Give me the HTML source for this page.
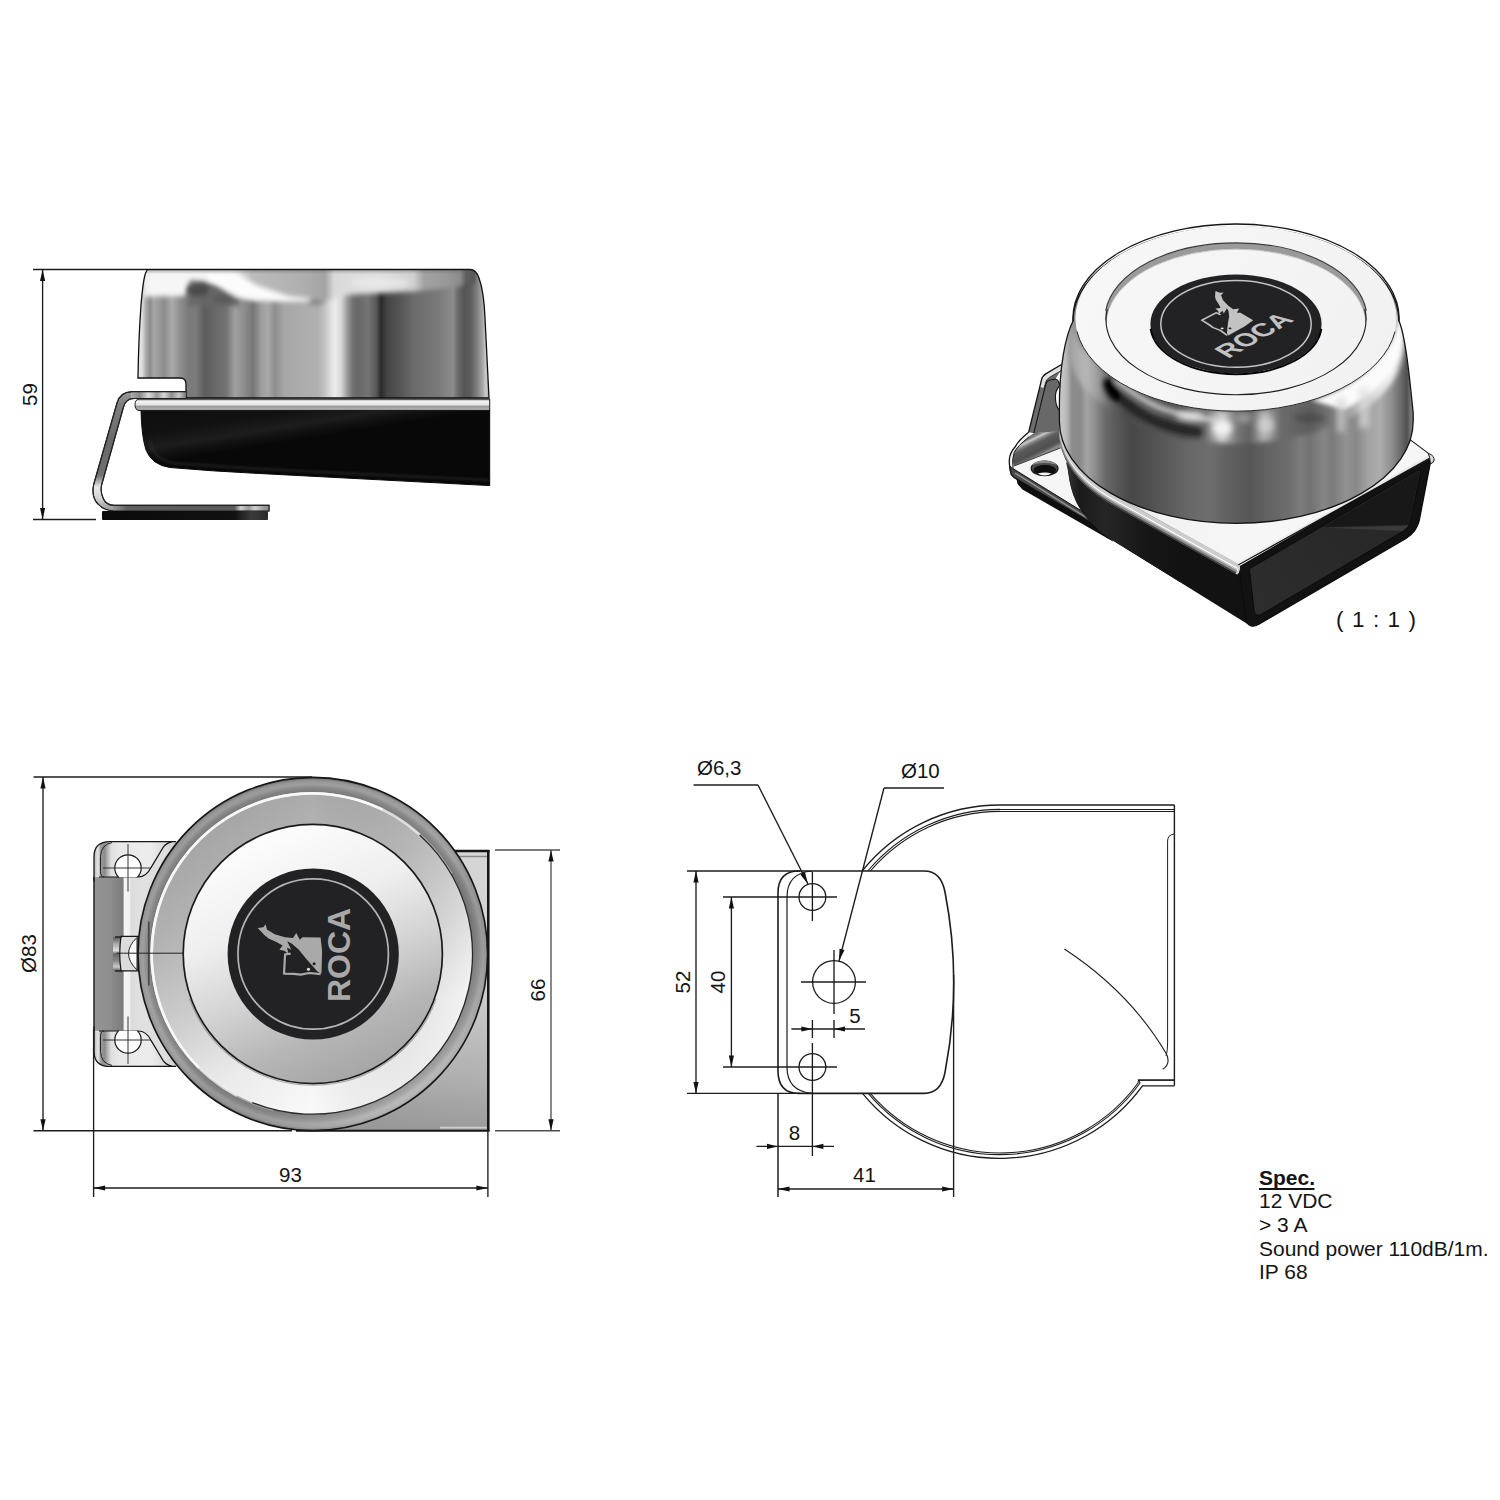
<!DOCTYPE html>
<html><head><meta charset="utf-8"><title>ROCA horn drawing</title>
<style>
html,body{margin:0;padding:0;background:#fff;}
body{width:1500px;height:1500px;overflow:hidden;font-family:"Liberation Sans",sans-serif;}
svg{display:block;}
svg text{font-family:"Liberation Sans",sans-serif;fill:#141414;}
</style></head><body>
<svg width="1500" height="1500" viewBox="0 0 1500 1500">
<defs>

<!-- side view gradients -->
<linearGradient id="sideChrome" gradientUnits="userSpaceOnUse" x1="138" y1="0" x2="489" y2="0">
<stop offset="0.0000" stop-color="#e6e6e6"/>
<stop offset="0.0114" stop-color="#dedede"/>
<stop offset="0.0228" stop-color="#aaaaaa"/>
<stop offset="0.0342" stop-color="#8c8c8c"/>
<stop offset="0.0456" stop-color="#a6a6a6"/>
<stop offset="0.0598" stop-color="#9a9a9a"/>
<stop offset="0.0741" stop-color="#8c8c8c"/>
<stop offset="0.0969" stop-color="#aaaaaa"/>
<stop offset="0.1225" stop-color="#8c8c8c"/>
<stop offset="0.1425" stop-color="#7c7c7c"/>
<stop offset="0.1652" stop-color="#7a7a7a"/>
<stop offset="0.1909" stop-color="#5c5c5c"/>
<stop offset="0.2222" stop-color="#6a6a6a"/>
<stop offset="0.2507" stop-color="#727272"/>
<stop offset="0.2764" stop-color="#a0a0a0"/>
<stop offset="0.3020" stop-color="#8e8e8e"/>
<stop offset="0.3276" stop-color="#767676"/>
<stop offset="0.3533" stop-color="#a0a0a0"/>
<stop offset="0.3704" stop-color="#a8a8a8"/>
<stop offset="0.3903" stop-color="#8e8e8e"/>
<stop offset="0.4160" stop-color="#a6a6a6"/>
<stop offset="0.4615" stop-color="#acacac"/>
<stop offset="0.5128" stop-color="#b0b0b0"/>
<stop offset="0.5328" stop-color="#c4c4c4"/>
<stop offset="0.5470" stop-color="#dcdcdc"/>
<stop offset="0.5613" stop-color="#ececec"/>
<stop offset="0.5783" stop-color="#d8d8d8"/>
<stop offset="0.5969" stop-color="#999999"/>
<stop offset="0.6125" stop-color="#707070"/>
<stop offset="0.6268" stop-color="#686868"/>
<stop offset="0.6553" stop-color="#747474"/>
<stop offset="0.6781" stop-color="#5a5a5a"/>
<stop offset="0.6923" stop-color="#2a2a2a"/>
<stop offset="0.7094" stop-color="#444444"/>
<stop offset="0.7407" stop-color="#525252"/>
<stop offset="0.7835" stop-color="#6a6a6a"/>
<stop offset="0.8205" stop-color="#727272"/>
<stop offset="0.8575" stop-color="#7a7a7a"/>
<stop offset="0.8974" stop-color="#8c8c8c"/>
<stop offset="0.9117" stop-color="#6a6a6a"/>
<stop offset="0.9288" stop-color="#555555"/>
<stop offset="0.9473" stop-color="#5c5c5c"/>
<stop offset="0.9658" stop-color="#808080"/>
<stop offset="0.9821" stop-color="#a8a8a8"/>
<stop offset="0.9915" stop-color="#cccccc"/>
<stop offset="1.0000" stop-color="#aaaaaa"/>
</linearGradient>
<linearGradient id="sideTopGlow" gradientUnits="userSpaceOnUse" x1="0" y1="269" x2="0" y2="318">
<stop offset="0" stop-color="#fff" stop-opacity="0.9"/>
<stop offset="0.3" stop-color="#fff" stop-opacity="0.72"/>
<stop offset="0.62" stop-color="#fff" stop-opacity="0.28"/>
<stop offset="1" stop-color="#fff" stop-opacity="0"/>
</linearGradient>
<linearGradient id="sideRim" gradientUnits="userSpaceOnUse" x1="0" y1="399" x2="0" y2="411">
<stop offset="0" stop-color="#8a8a8a"/><stop offset="0.2" stop-color="#f4f4f4"/><stop offset="0.48" stop-color="#e4e4e4"/>
<stop offset="0.62" stop-color="#9a9a9a"/><stop offset="0.85" stop-color="#b0b0b0"/><stop offset="1" stop-color="#555"/>
</linearGradient>
<linearGradient id="sideBase" gradientUnits="userSpaceOnUse" x1="0" y1="411" x2="12" y2="486">
<stop offset="0" stop-color="#0c0c0c"/><stop offset="0.6" stop-color="#111"/><stop offset="0.8" stop-color="#1d1d1d"/><stop offset="0.9" stop-color="#101010"/><stop offset="1" stop-color="#080808"/>
</linearGradient>
<linearGradient id="sideBrk" gradientUnits="userSpaceOnUse" x1="0" y1="392" x2="0" y2="511">
<stop offset="0" stop-color="#9c9c9c"/><stop offset="0.1" stop-color="#7e7e7e"/><stop offset="0.4" stop-color="#6a6a6a"/><stop offset="0.7" stop-color="#707070"/><stop offset="0.8" stop-color="#eaeaea"/><stop offset="0.9" stop-color="#d0d0d0"/><stop offset="1" stop-color="#909090"/>
</linearGradient>
<linearGradient id="sideBrkTop" gradientUnits="userSpaceOnUse" x1="128" y1="0" x2="186" y2="0">
<stop offset="0" stop-color="#bbb"/><stop offset="0.2" stop-color="#888"/><stop offset="0.35" stop-color="#ddd"/><stop offset="0.5" stop-color="#999"/><stop offset="0.62" stop-color="#d8d8d8"/><stop offset="0.75" stop-color="#909090"/><stop offset="0.88" stop-color="#c8c8c8"/><stop offset="1" stop-color="#777"/>
</linearGradient>
<linearGradient id="sidePlate" gradientUnits="userSpaceOnUse" x1="112" y1="0" x2="269" y2="0">
<stop offset="0" stop-color="#9a9a9a"/><stop offset="0.1" stop-color="#5e5e5e"/><stop offset="0.78" stop-color="#5a5a5a"/><stop offset="0.82" stop-color="#cfcfcf"/><stop offset="0.87" stop-color="#999"/><stop offset="0.91" stop-color="#d0d0d0"/><stop offset="0.96" stop-color="#a0a0a0"/><stop offset="1" stop-color="#888"/>
</linearGradient>
<linearGradient id="sidePad" gradientUnits="userSpaceOnUse" x1="102" y1="0" x2="268" y2="0">
<stop offset="0" stop-color="#0a0a0a"/><stop offset="0.8" stop-color="#111"/><stop offset="0.9" stop-color="#3a3a3a"/><stop offset="1" stop-color="#2a2a2a"/>
</linearGradient>
<linearGradient id="sideTop" gradientUnits="userSpaceOnUse" x1="138" y1="0" x2="489" y2="0">
<stop offset="0.0000" stop-color="#b4b4b4"/>
<stop offset="0.0085" stop-color="#c4c4c4"/>
<stop offset="0.0228" stop-color="#eeeeee"/>
<stop offset="0.0399" stop-color="#f6f6f6"/>
<stop offset="0.1368" stop-color="#f6f6f6"/>
<stop offset="0.1937" stop-color="#f2f2f2"/>
<stop offset="0.2792" stop-color="#e6e6e6"/>
<stop offset="0.3248" stop-color="#bcbcbc"/>
<stop offset="0.4615" stop-color="#b0b0b0"/>
<stop offset="0.5328" stop-color="#a4a4a4"/>
<stop offset="0.5584" stop-color="#d8d8d8"/>
<stop offset="0.5897" stop-color="#dcdcdc"/>
<stop offset="0.6895" stop-color="#dedede"/>
<stop offset="0.7863" stop-color="#cfcfcf"/>
<stop offset="0.8148" stop-color="#a2a2a2"/>
<stop offset="0.8746" stop-color="#9a9a9a"/>
<stop offset="0.9174" stop-color="#8c8c8c"/>
<stop offset="0.9345" stop-color="#5e5e5e"/>
<stop offset="0.9573" stop-color="#585858"/>
<stop offset="0.9744" stop-color="#9a9a9a"/>
<stop offset="1.0000" stop-color="#c0c0c0"/>
</linearGradient>
<linearGradient id="sideTopFade" gradientUnits="userSpaceOnUse" x1="0" y1="268" x2="0" y2="306">
<stop offset="0" stop-color="#fff"/><stop offset="0.5" stop-color="#fff"/><stop offset="0.72" stop-color="#888"/><stop offset="1" stop-color="#000"/>
</linearGradient>
<mask id="sideTopMask" maskUnits="userSpaceOnUse" x="130" y="260" width="370" height="60"><rect x="130" y="260" width="370" height="60" fill="#000"/><polygon filter="url(#blur25)" fill="#fff" points="120,250 510,250 510,283 470,284 462,286 420,291 345,295 330,300 250,300 232,293 214,283 190,280 185,296 120,297"/></mask>
<filter id="blur25" x="-20%" y="-40%" width="140%" height="180%"><feGaussianBlur stdDeviation="2.5"/></filter>
<clipPath id="sideBodyClip"><path d="M148,269.5 H470 Q476,269.5 479,278 Q484,292 485,318 Q487,360 489,398 H186 V384 Q186,378 180,378 H138 Q138.5,340 141,305 Q143,282 145,275 Q146.5,270 148,269.5 Z"/></clipPath>
<filter id="blur3" x="-20%" y="-20%" width="140%" height="140%"><feGaussianBlur stdDeviation="3"/></filter>
<filter id="blur2" x="-20%" y="-20%" width="140%" height="140%"><feGaussianBlur stdDeviation="2"/></filter>
<filter id="blur1" x="-20%" y="-20%" width="140%" height="140%"><feGaussianBlur stdDeviation="1"/></filter>
<filter id="blur5" x="-30%" y="-30%" width="160%" height="160%"><feGaussianBlur stdDeviation="5"/></filter>
<!-- top view gradients -->
<radialGradient id="topCone" gradientUnits="userSpaceOnUse" cx="312.8" cy="954" r="176.6">
<stop offset="0.900" stop-color="#7a7a7a"/><stop offset="0.915" stop-color="#7c7c7c"/><stop offset="0.94" stop-color="#8c8c8c"/>
<stop offset="0.962" stop-color="#a4a4a4"/><stop offset="0.982" stop-color="#9a9a9a"/><stop offset="0.994" stop-color="#777"/><stop offset="1" stop-color="#333"/>
</radialGradient>
<linearGradient id="topConeShade" gradientUnits="userSpaceOnUse" x1="200" y1="800" x2="430" y2="1110">
<stop offset="0" stop-color="#000" stop-opacity="0.05"/><stop offset="0.5" stop-color="#000" stop-opacity="0"/><stop offset="1" stop-color="#fff" stop-opacity="0.42"/>
</linearGradient>
<linearGradient id="topRing" gradientUnits="userSpaceOnUse" x1="262" y1="795" x2="372" y2="1108">
<stop offset="0" stop-color="#a9a9a9"/><stop offset="0.3" stop-color="#bcbcbc"/><stop offset="0.55" stop-color="#d6d6d6"/><stop offset="0.76" stop-color="#f1f1f1"/><stop offset="1" stop-color="#fbfbfb"/>
</linearGradient>
<linearGradient id="topRingH" gradientUnits="userSpaceOnUse" x1="152" y1="0" x2="473" y2="0">
<stop offset="0" stop-color="#000" stop-opacity="0.06"/><stop offset="0.5" stop-color="#000" stop-opacity="0"/><stop offset="1" stop-color="#fff" stop-opacity="0.25"/>
</linearGradient>
<linearGradient id="topDisc" gradientUnits="userSpaceOnUse" x1="262" y1="842" x2="358" y2="1076">
<stop offset="0" stop-color="#fcfcfc"/><stop offset="0.32" stop-color="#eeeeee"/><stop offset="0.58" stop-color="#d2d2d2"/><stop offset="0.8" stop-color="#b6b6b6"/><stop offset="1" stop-color="#a6a6a6"/>
</linearGradient>
<linearGradient id="topPlate" gradientUnits="userSpaceOnUse" x1="470" y1="850" x2="440" y2="1131">
<stop offset="0" stop-color="#d6d6d6"/><stop offset="0.45" stop-color="#d0d0d0"/><stop offset="0.8" stop-color="#b0b0b0"/><stop offset="1" stop-color="#999"/>
</linearGradient>
<linearGradient id="topWall" gradientUnits="userSpaceOnUse" x1="94" y1="0" x2="140" y2="0">
<stop offset="0" stop-color="#959595"/><stop offset="0.35" stop-color="#8e8e8e"/><stop offset="0.55" stop-color="#808080"/><stop offset="0.63" stop-color="#7c7c7c"/>
<stop offset="0.66" stop-color="#f6f6f6"/><stop offset="0.78" stop-color="#f0f0f0"/><stop offset="0.8" stop-color="#dcdcdc"/><stop offset="1" stop-color="#e0e0e0"/>
</linearGradient>
<linearGradient id="topEar" gradientUnits="userSpaceOnUse" x1="94" y1="0" x2="175" y2="0">
<stop offset="0" stop-color="#b4b4b4"/><stop offset="0.05" stop-color="#e8e8e8"/><stop offset="0.085" stop-color="#9a9a9a"/><stop offset="0.13" stop-color="#8c8c8c"/><stop offset="0.17" stop-color="#b4b4b4"/><stop offset="0.21" stop-color="#dedede"/><stop offset="0.3" stop-color="#e8e8e8"/><stop offset="0.7" stop-color="#ececec"/><stop offset="1" stop-color="#d0d0d0"/>
</linearGradient>
<linearGradient id="topKnob" gradientUnits="userSpaceOnUse" x1="0" y1="937" x2="0" y2="971">
<stop offset="0" stop-color="#555"/><stop offset="0.2" stop-color="#aaa"/><stop offset="0.4" stop-color="#e0e0e0"/><stop offset="0.5" stop-color="#666"/><stop offset="0.7" stop-color="#888"/><stop offset="0.88" stop-color="#ccc"/><stop offset="1" stop-color="#555"/>
</linearGradient>
<clipPath id="topBodyClip"><ellipse cx="312.8" cy="954" rx="174.8" ry="176.6"/></clipPath>
<clipPath id="earClipT"><rect x="100" y="840" width="60" height="37.2"/></clipPath>
<clipPath id="earClipB"><rect x="100" y="1030.8" width="60" height="37.2"/></clipPath>
<!-- iso view gradients -->
<linearGradient id="isoSide" gradientUnits="userSpaceOnUse" x1="1060" y1="0" x2="1411" y2="0">
<stop offset="0.0000" stop-color="#c8c8c8"/>
<stop offset="0.0171" stop-color="#bcbcbc"/>
<stop offset="0.0342" stop-color="#8c8c8c"/>
<stop offset="0.0570" stop-color="#8a8a8a"/>
<stop offset="0.0769" stop-color="#a4a4a4"/>
<stop offset="0.1026" stop-color="#8a8a8a"/>
<stop offset="0.1311" stop-color="#686868"/>
<stop offset="0.1709" stop-color="#545454"/>
<stop offset="0.2051" stop-color="#484848"/>
<stop offset="0.2564" stop-color="#505050"/>
<stop offset="0.3134" stop-color="#5c5c5c"/>
<stop offset="0.3704" stop-color="#686868"/>
<stop offset="0.4274" stop-color="#6e6e6e"/>
<stop offset="0.4729" stop-color="#626262"/>
<stop offset="0.5413" stop-color="#565656"/>
<stop offset="0.5983" stop-color="#646464"/>
<stop offset="0.6553" stop-color="#6e6e6e"/>
<stop offset="0.6838" stop-color="#7c7c7c"/>
<stop offset="0.7123" stop-color="#727272"/>
<stop offset="0.7521" stop-color="#868686"/>
<stop offset="0.7749" stop-color="#7a7a7a"/>
<stop offset="0.8148" stop-color="#929292"/>
<stop offset="0.8433" stop-color="#888888"/>
<stop offset="0.8775" stop-color="#a2a2a2"/>
<stop offset="0.9117" stop-color="#acacac"/>
<stop offset="0.9459" stop-color="#8e8e8e"/>
<stop offset="0.9715" stop-color="#6a6a6a"/>
<stop offset="0.9886" stop-color="#505050"/>
<stop offset="1.0000" stop-color="#7a7a7a"/>
</linearGradient>
<linearGradient id="isoBand" gradientUnits="userSpaceOnUse" x1="1072" y1="0" x2="1400" y2="0">
<stop offset="0.0000" stop-color="#a4a4a4"/>
<stop offset="0.0427" stop-color="#b8b8b8"/>
<stop offset="0.0793" stop-color="#9c9c9c"/>
<stop offset="0.1067" stop-color="#707070"/>
<stop offset="0.1341" stop-color="#585858"/>
<stop offset="0.1646" stop-color="#4a4a4a"/>
<stop offset="0.2378" stop-color="#525252"/>
<stop offset="0.3445" stop-color="#4a4a4a"/>
<stop offset="0.4055" stop-color="#6a6a6a"/>
<stop offset="0.4573" stop-color="#d0d0d0"/>
<stop offset="0.5000" stop-color="#7a7a7a"/>
<stop offset="0.5427" stop-color="#606060"/>
<stop offset="0.5854" stop-color="#b4b4b4"/>
<stop offset="0.6341" stop-color="#6c6c6c"/>
<stop offset="0.7256" stop-color="#5c5c5c"/>
<stop offset="0.8018" stop-color="#7c7c7c"/>
<stop offset="0.8628" stop-color="#b0b0b0"/>
<stop offset="0.9238" stop-color="#dedede"/>
<stop offset="0.9756" stop-color="#f0f0f0"/>
<stop offset="1.0000" stop-color="#c8c8c8"/>
</linearGradient>
<linearGradient id="isoTop" gradientUnits="userSpaceOnUse" x1="1100" y1="250" x2="1380" y2="400">
<stop offset="0" stop-color="#f7f7f7"/><stop offset="1" stop-color="#f1f1f1"/>
</linearGradient>
<linearGradient id="isoFlange" gradientUnits="userSpaceOnUse" x1="1080" y1="0" x2="1240" y2="0">
<stop offset="0" stop-color="#b8b8b8"/><stop offset="0.25" stop-color="#dcdcdc"/><stop offset="0.5" stop-color="#f2f2f2"/><stop offset="1" stop-color="#f6f6f6"/>
</linearGradient>
<linearGradient id="isoStrip" gradientUnits="userSpaceOnUse" x1="0" y1="0" x2="-5" y2="10">
<stop offset="0" stop-color="#e4e4e4"/><stop offset="0.25" stop-color="#c9c9c9"/><stop offset="0.42" stop-color="#fafafa"/><stop offset="0.6" stop-color="#b4b4b4"/><stop offset="0.85" stop-color="#8a8a8a"/><stop offset="1" stop-color="#444"/>
</linearGradient>
<linearGradient id="isoBowl" gradientUnits="userSpaceOnUse" x1="1066" y1="0" x2="1180" y2="0">
<stop offset="0" stop-color="#343434"/><stop offset="0.12" stop-color="#1a1a1a"/><stop offset="0.35" stop-color="#262626"/><stop offset="0.7" stop-color="#161616"/><stop offset="1" stop-color="#121212"/>
</linearGradient>
<linearGradient id="isoBend" gradientUnits="userSpaceOnUse" x1="1040" y1="431" x2="1049.5" y2="450">
<stop offset="0" stop-color="#686868"/><stop offset="0.1" stop-color="#808080"/><stop offset="0.2" stop-color="#cacaca"/><stop offset="0.3" stop-color="#8a8a8a"/><stop offset="0.45" stop-color="#5c5c5c"/><stop offset="0.8" stop-color="#4e4e4e"/><stop offset="0.95" stop-color="#6a6a6a"/><stop offset="1" stop-color="#888"/>
</linearGradient>
<linearGradient id="isoPanel" gradientUnits="userSpaceOnUse" x1="1250" y1="600" x2="1420" y2="490">
<stop offset="0" stop-color="#2d2d2d"/><stop offset="1" stop-color="#262626"/>
</linearGradient>
<clipPath id="isoSideClip"><path d="M1073.0,321.0 C1066.0,335.0 1058.8,365.2 1059.4,413.2 L1059.4,421.2 A176.6,101.97 0 0 0 1413.2,421.2 L1413.2,413.2 C1409.6,377.2 1405.5,336.0 1399.0,321.0 A163.0,94.12 0 0 0 1073.0,321.0 Z"/></clipPath>
<filter id="blur4" x="-30%" y="-30%" width="160%" height="160%"><feGaussianBlur stdDeviation="4"/></filter>

</defs>
<rect width="1500" height="1500" fill="#fff"/>
<!-- side view -->
<g id="side"><g clip-path="url(#sideBodyClip)"><rect x="136" y="268" width="356" height="132" fill="url(#sideChrome)"/><rect x="136" y="268" width="356" height="40" fill="url(#sideTop)" mask="url(#sideTopMask)"/><g filter="url(#blur25)"><polygon points="188,288 212,286 238,297 240,306 188,306" fill="#666" opacity="0.85"/><ellipse cx="198" cy="290" rx="11" ry="6.5" fill="#484848" opacity="0.95"/><ellipse cx="226" cy="299" rx="14" ry="5" fill="#585858" opacity="0.8"/><polygon points="206,272 235,272.7 256.7,285.3 288.3,296.1 310,298.5 310,301 288,301.6 256.7,300.4 236.4,297 218.7,285.6 208.5,281.5" fill="#fcfcfc"/><ellipse cx="316" cy="302" rx="9" ry="3" fill="#777" opacity="0.7"/><ellipse cx="380" cy="283" rx="30" ry="5" fill="#ececec" opacity="0.7"/></g><rect x="136" y="269" width="356" height="3.5" fill="#666" opacity="0.35" filter="url(#blur1)"/></g>
<path d="M148,269.5 H470 Q476,269.5 479,278 Q484,292 485,318 Q487,360 489,398 H186 V384 Q186,378 180,378 H138 Q138.5,340 141,305 Q143,282 145,275 Q146.5,270 148,269.5 Z" fill="none" stroke="#111" stroke-width="1.3"/>
<path d="M141,410 Q141.5,436 146,450 Q152,465 170,467.5 Q210,471 250,473 L489.7,485.6 V410 Z" fill="url(#sideBase)" stroke="#0a0a0a" stroke-width="1"/>
<path d="M150,440 Q152,458 172,463 Q260,470 489,480" fill="none" stroke="#2e2e2e" stroke-width="2.5" opacity="0.55" filter="url(#blur1)"/>
<path d="M186,391.6 H132 Q120,392 117,403 L93.8,484 Q91,497 98,504 Q104,510.5 113,511 H269 V505.4 H114 Q106,505 103.5,499 Q100,492 101.6,485 L123.5,407 Q126,398.5 134,398.5 H186 Z" fill="url(#sideBrk)" stroke="#222" stroke-width="1.1"/>
<rect x="131" y="392.2" width="55" height="5.8" fill="url(#sideBrkTop)"/>
<rect x="113" y="505.6" width="156" height="5.2" fill="url(#sidePlate)"/>
<path d="M186,391.6 H132 Q120,392 117,403 L93.8,484 Q91,497 98,504 Q104,510.5 113,511 H269 V505.4 H114 Q106,505 103.5,499 Q100,492 101.6,485 L123.5,407 Q126,398.5 134,398.5 H186" fill="none" stroke="#222" stroke-width="1.1"/>
<rect x="102" y="511" width="166" height="9" rx="1" fill="url(#sidePad)"/>
<path d="M139,399 H489.7 V410.5 H139 Q135,410 135,404.7 Q135,399.5 139,399 Z" fill="url(#sideRim)" stroke="#1a1a1a" stroke-width="1"/></g>
<!-- isometric view -->
<g id="iso"><polygon points="1016.0,476.0 1110.0,532.0 1113.0,541.5 1022.5,489.6 1017.5,484.0" fill="#0e0e0e"/>
<polygon points="1010.0,466.0 1013.0,468.6 1083.2,511.9 1100.0,523.0 1106.0,531.0 1018.0,479.5 1011.5,474.5" fill="#4a4a4a" stroke="#141414" stroke-width="0.8"/>
<path d="M1015,473 L1100,526" stroke="#9a9a9a" stroke-width="1.4" fill="none" opacity="0.9"/>
<polygon points="1015.6,446.2 1030.0,434.0 1060.7,447.9 1064.0,452.0 1068.5,468.6 1072.8,492.0 1083.2,511.9 1013.0,468.6 1009.5,458.3" fill="#f5f5f5"/>
<ellipse cx="1044.6" cy="468.4" rx="13.4" ry="7.3" fill="#4a4a4a" stroke="#111" stroke-width="1.2"/>
<path d="M1032,466.5 A12.6,6 0 0 1 1057.2,466.5 A12.6,3.6 0 0 0 1032,466.5 Z" fill="#8a8a8a"/>
<ellipse cx="1044.8" cy="470" rx="11.3" ry="4.9" fill="#0e0e0e"/>
<path d="M1037.6,473.6 Q1044.6,471.6 1051.6,473.4 Q1044.6,477.4 1037.6,473.6 Z" fill="#f4f4f4"/>
<polygon points="1033.8,433.2 1028.6,436.7 1014.7,449.7 1012.6,461.8 1013.9,466.1 1060.7,447.9 1059.8,430.6" fill="url(#isoBend)"/>
<path d="M1013.9,466.1 L1060.7,447.9" stroke="#333" stroke-width="0.9" fill="none"/>
<polygon points="1028.6,432.3 1015.6,446.2 1009.5,458.3 1010.0,466.0 1013.2,465.0 1012.8,455.0 1017.0,447.0 1029.2,436.7" fill="#f0f0f0"/>
<path d="M1062,364.3 L1046.5,373.4 Q1042.5,375.8 1041.6,379.5 L1028.6,432.3 L1033.8,433.2 L1045.6,385 Q1046.4,380.8 1050,380 L1055.5,379 L1061,370 Z" fill="#6c6c6c"/>
<path d="M1062,364.3 L1046.5,373.4 Q1042.6,375.8 1041.6,379.5 L1039.8,387 L1044.2,388 L1045.8,382 Q1046.6,379 1049.5,377.4 L1062,370.2 Z" fill="#e2e2e2"/>
<path d="M1062,370.2 L1049.5,377.4 Q1046.6,379 1045.8,382 L1044.2,388" fill="none" stroke="#222" stroke-width="0.9"/>
<path d="M1045.6,385 Q1046.4,380.8 1050,380 L1055.5,379 Q1060,381 1059.8,385.5 L1061,431 L1033.8,433.2 Z" fill="#686868"/>
<path d="M1059.8,385.5 Q1055.6,390 1055.4,396 Q1055.2,405 1059,410 L1062,411 L1062,385 Z" fill="#fbfbfb" stroke="#161616" stroke-width="1.1"/>
<path d="M1062,364.3 L1046.5,373.4 Q1042.5,375.8 1041.6,379.5 L1028.6,432.3" fill="none" stroke="#141414" stroke-width="1.3"/>
<path d="M1033.8,433.2 L1045.6,385 Q1046.4,380.8 1050,380 L1055.5,379 Q1058.5,379.5 1059.8,385.5" fill="none" stroke="#141414" stroke-width="1.1"/>
<path d="M1028.6,432.3 Q1018,441 1015.6,446.2 Q1009.5,453 1009.3,460 Q1009,468 1011.3,474.7 Q1013.5,478 1018,480" fill="none" stroke="#141414" stroke-width="1.3"/>
<path d="M1029.2,436.7 Q1017.5,446 1014.2,452.5 Q1011.8,459 1013,468.6 L1083.2,511.9" fill="none" stroke="#141414" stroke-width="1"/>
<path d="M1068.5,468.6 Q1071,495 1083.2,511.9 Q1094,527 1108,538" fill="none" stroke="#0a0a0a" stroke-width="1.2"/>
<polygon points="1110.8,503.5 1240.0,574.0 1249.0,621.7 1251.5,626.5 1106.8,536.7 1098.0,528.0" fill="#121212"/>
<path d="M1066,462 Q1068,470 1069,478 Q1072,498 1082,512 Q1092,526 1107,537 L1180,582 L1180,520 L1130,500 Z" fill="url(#isoBowl)"/>
<path d="M1238.8,567.3 L1429.5,457 Q1432,459 1430.2,463.7 L1419.2,520.9 Q1416.5,532 1406,538.5 L1258.5,624.5 Q1250.5,629 1246.2,621.5 Z" fill="#121212" stroke="#0c0c0c" stroke-width="1.2" stroke-linejoin="round"/>
<path d="M1249.6,571 Q1248.3,569.5 1251,567.8 L1417.5,470.6 Q1421.2,468.5 1420.5,472.5 L1410.5,521 Q1409,528 1402.3,531.8 L1261,614.5 Q1256.5,617 1254.3,612 Z" fill="url(#isoPanel)" stroke="#0a0a0a" stroke-width="1"/>
<polygon points="1323.0,527.3 1419.5,471.0 1409.0,524.5" fill="#181818"/>
<polygon points="1323.0,527.6 1408.8,525.8 1402.5,531.0" fill="#3a3a3a"/>
<polygon points="1323.0,527.3 1252.0,568.8 1417.0,472.5" fill="#1f1f1f" opacity="0.55"/>
<path d="M1110.8,493.4 L1238.3,564.2 L1431.5,457.5 L1394.4,427.7 L1236.0,421.2 Z" fill="url(#isoFlange)"/>
<ellipse cx="1236.0" cy="421.2" rx="177" ry="102.20" fill="url(#isoFlange)"/>
<path d="M1059.4,414.0 A177,102.20 0 0 0 1110.8,493.4 L1238.3,563.9 L1236.1,574.0 L1110.8,504.0 L1110.8,504.0 A177,102.20 0 0 1 1059.4,424.6 Z" fill="#9c9c9c"/>
<path d="M1059.4,414.0 A177,102.20 0 0 0 1110.8,493.4 L1238.3,563.9 L1237.5,567.5 L1110.8,497.2 L1110.8,497.2 A177,102.20 0 0 1 1059.4,417.8 Z" fill="#cdcdcd"/>
<path d="M1059.4,417.8 A177,102.20 0 0 0 1110.8,497.2 L1237.5,567.5 L1237.2,569.2 L1110.8,498.9 L1110.8,498.9 A177,102.20 0 0 1 1059.4,419.5 Z" fill="#fbfbfb"/>
<path d="M1059.4,419.5 A177,102.20 0 0 0 1110.8,498.9 L1237.2,569.2 L1236.8,570.6 L1110.8,500.4 L1110.8,500.4 A177,102.20 0 0 1 1059.4,421.0 Z" fill="#c4c4c4"/>
<path d="M1059.4,421.0 A177,102.20 0 0 0 1110.8,500.4 L1236.8,570.6 L1236.4,572.6 L1110.8,502.5 L1110.8,502.5 A177,102.20 0 0 1 1059.4,423.1 Z" fill="#8c8c8c"/>
<path d="M1059.4,423.1 A177,102.20 0 0 0 1110.8,502.5 L1236.4,572.6 L1236.1,574.0 L1110.8,504.0 L1110.8,504.0 A177,102.20 0 0 1 1059.4,424.6 Z" fill="#3c3c3c"/>
<path d="M1238.3,564.2 Q1240.8,568.6 1236.4,574.2" fill="none" stroke="#d0d0d0" stroke-width="2"/>
<path d="M1238.3,563.6 L1429.0,456.7 Q1433.1,456.9 1431.9,461.1" fill="none" stroke="#e8e8e8" stroke-width="2.2"/>
<path d="M1238.3,565.0 L1429.5,458.3" fill="none" stroke="#111" stroke-width="1.2"/>
<path d="M1393.0,426.9 L1428.4,453.4" fill="none" stroke="#141414" stroke-width="1.1"/>
<path d="M1428.2,453.2 Q1435.6,456.2 1433.8,461 Q1432.8,463.4 1430.4,463.8 L1429.6,457.4 Z" fill="#dcdcdc" stroke="#141414" stroke-width="1"/>
<g clip-path="url(#isoSideClip)">
<rect x="1050" y="210" width="370" height="330" fill="url(#isoSide)"/>
<path d="M1068.0,346.4 A168,97.00 0 0 0 1404.0,346.4 L1399.0,317.0 L1399.0,317.0 A163.0,94.12 0 0 1 1073.0,317.0 Z" fill="url(#isoBand)" filter="url(#blur25)"/>
<g filter="url(#blur25)"><path d="M1108,384 Q1125,406 1150,419 Q1172,429 1198,432" fill="none" stroke="#1c1c1c" stroke-width="9" stroke-linecap="round" opacity="0.9"/><path d="M1118,381 Q1138,399 1162,408.5 Q1190,418 1216,420" fill="none" stroke="#cfcfcf" stroke-width="5.5" stroke-linecap="round" opacity="0.9"/><ellipse cx="1112" cy="390" rx="6" ry="13" fill="#000" opacity="0.95" transform="rotate(-30 1112 390)"/><ellipse cx="1310" cy="418" rx="16" ry="5" fill="#444" opacity="0.6"/></g>
<g filter="url(#blur3)"><ellipse cx="1190" cy="416" rx="14" ry="5" fill="#e8e8e8" opacity="0.8"/><ellipse cx="1222" cy="428" rx="10" ry="8" fill="#f6f6f6" opacity="0.95"/><ellipse cx="1266" cy="425" rx="8" ry="9" fill="#d4d4d4" opacity="0.8"/><ellipse cx="1244" cy="418" rx="8" ry="5" fill="#aaa" opacity="0.7"/></g>
<path d="M1311.6,400.3 A161,92.96 0 0 0 1395.4,305.3 L1401.9,322.3 A167.5,96.71 0 0 1 1343.7,409.8 Z" fill="#fbfbfb" filter="url(#blur2)"/>
<g filter="url(#blur3)" opacity="0.7"><rect x="1337" y="398" width="8" height="34" fill="#d0d0d0"/><rect x="1359" y="388" width="10" height="40" fill="#dcdcdc"/></g>
</g>
<path d="M1073.0,321.0 C1066.0,335.0 1058.8,365.2 1059.4,413.2 L1059.4,421.2 A176.6,101.97 0 0 0 1413.2,421.2 L1413.2,413.2 C1409.6,377.2 1405.5,336.0 1399.0,321.0 A163.0,94.12 0 0 0 1073.0,321.0 Z" fill="none" stroke="#141414" stroke-width="1.3"/>
<ellipse cx="1236.0" cy="318.6" rx="160.6" ry="92.73" fill="url(#isoTop)"/>
<path d="M1395.0,331.5 A160.6,92.73 0 0 1 1077.0,331.5" fill="none" stroke="#2a2a2a" stroke-width="1"/>
<path d="M1073.1,321.4 A163.0,94.12 0 1 1 1398.9,321.4" fill="none" stroke="#141414" stroke-width="1.3"/>
<path d="M1105.0,318.6 A131,75.64 0 0 1 1367.0,318.6 L1365.4,323.9 A129.4,74.72 0 0 0 1106.6,323.9 Z" fill="#9a9a9a"/>
<path d="M1105.7,310.7 A131,75.64 0 0 1 1366.3,310.7" fill="none" stroke="#3a3a3a" stroke-width="1.1"/>
<path d="M1109.4,308.4 A129.4,74.72 0 0 1 1362.6,308.4" fill="none" stroke="#c8c8c8" stroke-width="1"/>
<path d="M1364.7,309.1 A130,75.06 0 1 1 1107.3,309.1" fill="none" stroke="#1c1c1c" stroke-width="1.1"/>
<ellipse cx="1236.0" cy="323.9" rx="85.6" ry="49.43" fill="#222225"/>
<path d="M1321.3,328.9 A85.6,49.43 0 0 1 1150.7,328.9" fill="none" stroke="#050505" stroke-width="2"/>
<ellipse cx="1236.0" cy="323.9" rx="75.2" ry="43.42" fill="none" stroke="#c4c4c4" stroke-width="1.5"/>
<g transform="matrix(0.7071,-0.4082,0.7071,0.4082,1236.00,323.91)"><path d="M25.9,-55.0 L26.7,-49.4 L29.8,-47.2 L24.6,-45.8 L19.8,-38.1 L16.8,-27.7 L15.9,-19.8 L21.1,-16.5 L14.2,-13.0 L16.8,-10.4 L16.5,7.8 L3.3,9.3 L-19.6,8.7 L-17.9,5.2 L-12.3,-0.0 L-4.5,-6.9 L4.2,-13.9 L10.3,-20.8 L12.7,-25.6 L4.2,-21.5 L6.6,-25.8 L-0.1,-24.3 L3.2,-28.4 L4.2,-33.4 L8.5,-30.2 L12.0,-36.4 L15.5,-44.2 L18.9,-48.5 Z" fill="#c2c2c2"/><path d="M0.3,-22.1 L-0.3,-27.7 L-19.6,-28.8 L-19.9,-19.1 L-20.7,-12.1 L-19.0,-3.5 L-20.2,7.8" fill="none" stroke="#c2c2c2" stroke-width="2.2" stroke-linejoin="round"/><circle cx="-9.7" cy="1.3" r="1.5" fill="#222"/><circle cx="-15.3" cy="-4.3" r="1.5" fill="#e8e8e8"/><text x="-48" y="37.2" font-size="32" font-weight="bold" style="fill:#c2c2c2" textLength="94" lengthAdjust="spacingAndGlyphs">ROCA</text></g></g>
<!-- top view -->
<g id="top"><path d="M430,850 H489 V1130.7 H300 Z" fill="url(#topPlate)"/>
<path d="M452,856.5 H489" stroke="#8a8a8a" stroke-width="1.6" fill="none"/>
<path d="M440,1127.6 H488" stroke="#cdcdcd" stroke-width="1.6" fill="none"/>
<path d="M488.3,850 V1131" fill="none" stroke="#161616" stroke-width="2.6"/>
<path d="M296,1130.7 H489.6" fill="none" stroke="#161616" stroke-width="1.9"/>
<path d="M440,851 H489.4" fill="none" stroke="#161616" stroke-width="2.6"/>
<rect x="94" y="860" width="80" height="190" fill="url(#topWall)"/>
<polygon points="138,877 151,868 164,847 172,842 184,842 184,877" fill="#dedede"/>
<polygon points="138,1031 151,1040 164,1061 172,1066 184,1066 184,1031" fill="#dedede"/>
<path d="M94,877.6 V856.6 Q94,841.6 110,841.6 H178 V853.6 L164,847.0 L151,867.6 Q146.5,877.0 138,877.0 H100 Z" fill="url(#topEar)"/>
<path d="M94,881.6 V856.6 Q94,841.6 110,841.6 H176" fill="none" stroke="#161616" stroke-width="1.3"/>
<path d="M99,877.0 H138 Q146.5,877.0 151,867.6 L163,847.6 Q166,843.1 172,841.6" fill="none" stroke="#161616" stroke-width="1.2"/>
<path d="M112,842.6 Q101,844.6 100.5,856.6 V871.6 Q100.5,876.6 104,877.0" fill="none" stroke="#222" stroke-width="1"/>
<g clip-path="url(#earClipT)"><circle cx="128" cy="868.0" r="13.2" fill="#fdfdfd" stroke="#161616" stroke-width="1.2"/></g>
<path d="M103,868.0 H151 M128,844.1 V891.6" stroke="#222" stroke-width="0.9" fill="none"/>
<path d="M94,1030.4 V1051.4 Q94,1066.4 110,1066.4 H178 V1054.4 L164,1061.0 L151,1040.4 Q146.5,1031.0 138,1031.0 H100 Z" fill="url(#topEar)"/>
<path d="M94,1026.4 V1051.4 Q94,1066.4 110,1066.4 H176" fill="none" stroke="#161616" stroke-width="1.3"/>
<path d="M99,1031.0 H138 Q146.5,1031.0 151,1040.4 L163,1060.4 Q166,1064.9 172,1066.4" fill="none" stroke="#161616" stroke-width="1.2"/>
<path d="M112,1065.4 Q101,1063.4 100.5,1051.4 V1036.4 Q100.5,1031.4 104,1031.0" fill="none" stroke="#222" stroke-width="1"/>
<g clip-path="url(#earClipB)"><circle cx="128" cy="1040.0" r="13.2" fill="#fdfdfd" stroke="#161616" stroke-width="1.2"/></g>
<path d="M103,1040.0 H151 M128,1063.9 V1016.4000000000001" stroke="#222" stroke-width="0.9" fill="none"/>
<path d="M94,877 V1031" stroke="#161616" stroke-width="1.4" fill="none"/>
<rect x="113" y="937.5" width="8" height="33" fill="url(#topKnob)"/>
<path d="M121,936.4 H138 V970.8 H121 Q118.5,954 121,936.4 Z" fill="#dcdcdc" stroke="#161616" stroke-width="1.2"/>
<path d="M137,937.5 Q120,953.5 137,970 Z" fill="#fafafa" stroke="#222" stroke-width="1"/>
<path d="M115,937 H122 M115,971 H122" stroke="#222" stroke-width="1.6" fill="none"/>
<ellipse cx="312.8" cy="954.0" rx="174.8" ry="176.6" fill="url(#topCone)"/>
<ellipse cx="312.8" cy="954.0" rx="174.8" ry="176.6" fill="url(#topConeShade)"/>
<ellipse cx="312.8" cy="954.0" rx="174.8" ry="176.6" fill="none" stroke="#161616" stroke-width="1.6"/>
<circle cx="312.3" cy="954.0" r="160.3" fill="url(#topRing)"/>
<circle cx="312.3" cy="954.0" r="160.3" fill="url(#topRingH)"/>
<path d="M273.4,1109.8 A160.6,160.6 0 1 1 451.4,873.7" fill="none" stroke="#f6f6f6" stroke-width="2.4" opacity="0.4"/>
<path d="M236.9,1095.8 A160.6,160.6 0 1 1 419.8,834.7" fill="none" stroke="#f6f6f6" stroke-width="2.6" opacity="0.6"/>
<path d="M198.7,1067.6 A160.6,160.6 0 0 1 382.7,809.7" fill="none" stroke="#f8f8f8" stroke-width="2.6"/>
<path d="M419.6,834.9 A160.3,160.3 0 0 1 252.3,1102.6" fill="none" stroke="#2a2a2a" stroke-width="1.3"/>
<circle cx="312.8" cy="954.0" r="129.6" fill="url(#topDisc)" stroke="#1a1a1a" stroke-width="1.7"/>
<path d="M436.1,998.9 A131.2,131.2 0 0 1 189.5,998.9" fill="none" stroke="#888" stroke-width="1.2" opacity="0.7"/>
<path d="M148.8,921.6 V985.6" stroke="#444" stroke-width="1.5" fill="none"/>
<path d="M116.4,953.2 H183.2" stroke="#222" stroke-width="1" fill="none"/>
<circle cx="313.2" cy="954.0" r="85.6" fill="#222225"/>
<circle cx="313.2" cy="954.0" r="75.2" fill="none" stroke="#b4b4b4" stroke-width="1.7"/>
<g transform="translate(312.8,954.0) rotate(-90)"><path d="M25.9,-55.0 L26.7,-49.4 L29.8,-47.2 L24.6,-45.8 L19.8,-38.1 L16.8,-27.7 L15.9,-19.8 L21.1,-16.5 L14.2,-13.0 L16.8,-10.4 L16.5,7.8 L3.3,9.3 L-19.6,8.7 L-17.9,5.2 L-12.3,-0.0 L-4.5,-6.9 L4.2,-13.9 L10.3,-20.8 L12.7,-25.6 L4.2,-21.5 L6.6,-25.8 L-0.1,-24.3 L3.2,-28.4 L4.2,-33.4 L8.5,-30.2 L12.0,-36.4 L15.5,-44.2 L18.9,-48.5 Z" fill="#a9a9a9"/><path d="M0.3,-22.1 L-0.3,-27.7 L-19.6,-28.8 L-19.9,-19.1 L-20.7,-12.1 L-19.0,-3.5 L-20.2,7.8" fill="none" stroke="#a9a9a9" stroke-width="2.2" stroke-linejoin="round"/><circle cx="-9.7" cy="1.3" r="1.5" fill="#222"/><circle cx="-15.3" cy="-4.3" r="1.5" fill="#e8e8e8"/><text x="-48" y="37.2" font-size="32" font-weight="bold" style="fill:#a9a9a9" textLength="94" lengthAdjust="spacingAndGlyphs">ROCA</text></g></g>
<!-- bracket line drawing -->
<g id="linedraw" fill="none"><path d="M862.1,871 A177.0,177.0 0 0 1 1000.0,805.0 L1174.4,805.0" stroke="#1c1c1c" stroke-width="1.3"/>
<path d="M867.8,871 A172.6,172.6 0 0 1 1000.0,809.4 L1174.4,809.4" stroke="#1c1c1c" stroke-width="1.05"/>
<path d="M870.4,871 A170.6,170.6 0 0 1 1000.0,811.4 L1174.4,811.4" stroke="#1c1c1c" stroke-width="1.05"/>
<path d="M862.5,1093.4 A177,177 0 0 0 1142.5,1085.8 L1174.4,1085.8" stroke="#1c1c1c" stroke-width="1.3"/>
<path d="M868.2,1093.4 A172.6,172.6 0 0 0 1140.0,1083 L1138.5,1080.1 L1174.4,1080.1" stroke="#1c1c1c" stroke-width="1.05"/>
<path d="M870.3,1093.4 A171.0,171.0 0 0 0 1138.0,1083 L1138.5,1080.1 L1174.4,1080.1" stroke="#1c1c1c" stroke-width="1.05"/>
<path d="M1174.4,805 V1085.8" stroke="#1c1c1c" stroke-width="1.4"/>
<path d="M1174,834 Q1167.6,835 1167.6,841 V1043 Q1167.6,1052 1166,1056" stroke="#1c1c1c" stroke-width="1.0"/>
<path d="M1064.4,949 Q1130,992 1166.5,1054 Q1171,1064 1162.7,1069.3" stroke="#1c1c1c" stroke-width="1.1"/>
<path d="M799,871 H924 Q941,871 945,892 Q962.5,982 945,1072.4 Q941,1093.4 924,1093.4 H799 Q778,1093.4 778,1071 V893 Q778,871 799,871 Z" stroke="#1c1c1c" stroke-width="1.6"/>
<path d="M812,871 Q787,873 787,897 V1067 Q787,1091 812,1093.4" stroke="#1c1c1c" stroke-width="1.2"/>
<circle cx="812.4" cy="897" r="13.4" stroke="#1c1c1c" stroke-width="1.3"/>
<circle cx="812.4" cy="1067" r="13.4" stroke="#1c1c1c" stroke-width="1.3"/>
<circle cx="834" cy="982" r="21.4" stroke="#1c1c1c" stroke-width="1.3"/></g>
<!-- dimensions and text -->
<g id="dims"><line x1="33" y1="269.5" x2="148" y2="269.5" stroke="#1c1c1c" stroke-width="1.35"/>
<line x1="33" y1="519.5" x2="96" y2="519.5" stroke="#1c1c1c" stroke-width="1.35"/>
<line x1="42.6" y1="269.5" x2="42.6" y2="519.5" stroke="#1c1c1c" stroke-width="1.35"/>
<polygon points="42.6,269.5 45.2,281.0 40.0,281.0" fill="#111"/>
<polygon points="42.6,519.5 40.0,508.0 45.2,508.0" fill="#111"/>
<text x="36.5" y="394.5" font-size="20.5" text-anchor="middle" font-weight="normal" transform="rotate(-90 36.5 394.5)">59</text>
<line x1="33.5" y1="777" x2="312" y2="777" stroke="#1c1c1c" stroke-width="1.35"/>
<line x1="33.5" y1="1130.7" x2="292" y2="1130.7" stroke="#1c1c1c" stroke-width="1.35"/>
<line x1="43" y1="777" x2="43" y2="1130.7" stroke="#1c1c1c" stroke-width="1.35"/>
<polygon points="43.0,777.0 45.6,788.5 40.4,788.5" fill="#111"/>
<polygon points="43.0,1130.7 40.4,1119.2 45.6,1119.2" fill="#111"/>
<text x="35.5" y="953.5" font-size="20.5" text-anchor="middle" font-weight="normal" transform="rotate(-90 35.5 953.5)">Ø83</text>
<line x1="495" y1="850" x2="560" y2="850" stroke="#505050" stroke-width="1.35"/>
<line x1="495" y1="1130.7" x2="560" y2="1130.7" stroke="#505050" stroke-width="1.35"/>
<line x1="551" y1="850" x2="551" y2="1130.7" stroke="#505050" stroke-width="1.35"/>
<polygon points="551.0,850.0 553.6,861.5 548.4,861.5" fill="#111"/>
<polygon points="551.0,1130.7 548.4,1119.2 553.6,1119.2" fill="#111"/>
<text x="544.5" y="990" font-size="20.5" text-anchor="middle" font-weight="normal" transform="rotate(-90 544.5 990)">66</text>
<line x1="93.6" y1="1030" x2="93.6" y2="1197" stroke="#1c1c1c" stroke-width="1.35"/>
<line x1="487.9" y1="1131" x2="487.9" y2="1197" stroke="#1c1c1c" stroke-width="1.35"/>
<line x1="93.6" y1="1188" x2="487.9" y2="1188" stroke="#1c1c1c" stroke-width="1.35"/>
<polygon points="93.6,1188.0 105.1,1185.4 105.1,1190.6" fill="#111"/>
<polygon points="487.9,1188.0 476.4,1190.6 476.4,1185.4" fill="#111"/>
<text x="290.5" y="1182" font-size="20.5" text-anchor="middle" font-weight="normal">93</text>
<line x1="687" y1="871" x2="800" y2="871" stroke="#1c1c1c" stroke-width="1.35"/>
<line x1="687" y1="1093.4" x2="800" y2="1093.4" stroke="#1c1c1c" stroke-width="1.35"/>
<line x1="696" y1="871" x2="696" y2="1093.4" stroke="#1c1c1c" stroke-width="1.35"/>
<polygon points="696.0,871.0 698.6,882.5 693.4,882.5" fill="#111"/>
<polygon points="696.0,1093.4 693.4,1081.9 698.6,1081.9" fill="#111"/>
<text x="689.5" y="982" font-size="20.5" text-anchor="middle" font-weight="normal" transform="rotate(-90 689.5 982)">52</text>
<line x1="723" y1="897" x2="837" y2="897" stroke="#1c1c1c" stroke-width="1.35"/>
<line x1="723" y1="1067" x2="837" y2="1067" stroke="#1c1c1c" stroke-width="1.35"/>
<line x1="731.4" y1="897" x2="731.4" y2="1067" stroke="#1c1c1c" stroke-width="1.35"/>
<polygon points="731.4,897.0 734.0,908.5 728.8,908.5" fill="#111"/>
<polygon points="731.4,1067.0 728.8,1055.5 734.0,1055.5" fill="#111"/>
<text x="725" y="982" font-size="20.5" text-anchor="middle" font-weight="normal" transform="rotate(-90 725 982)">40</text>
<line x1="812.4" y1="872" x2="812.4" y2="921" stroke="#1c1c1c" stroke-width="1.35"/>
<line x1="801" y1="982" x2="866" y2="982" stroke="#1c1c1c" stroke-width="1.35"/>
<line x1="834" y1="950" x2="834" y2="1014" stroke="#1c1c1c" stroke-width="1.35"/>
<line x1="834" y1="1020" x2="834" y2="1038" stroke="#1c1c1c" stroke-width="1.35"/>
<line x1="812.4" y1="1020" x2="812.4" y2="1038" stroke="#1c1c1c" stroke-width="1.35"/>
<line x1="812.4" y1="1043" x2="812.4" y2="1156" stroke="#1c1c1c" stroke-width="1.35"/>
<line x1="791.4" y1="1029" x2="865" y2="1029" stroke="#1c1c1c" stroke-width="1.35"/>
<polygon points="812.4,1029.0 801.4,1031.6 801.4,1026.4" fill="#111"/>
<polygon points="834.0,1029.0 845.0,1026.4 845.0,1031.6" fill="#111"/>
<text x="855" y="1023" font-size="20.5" text-anchor="middle" font-weight="normal">5</text>
<line x1="756.4" y1="1146.4" x2="834" y2="1146.4" stroke="#1c1c1c" stroke-width="1.35"/>
<polygon points="778.0,1146.4 767.0,1149.0 767.0,1143.8" fill="#111"/>
<polygon points="812.4,1146.4 823.4,1143.8 823.4,1149.0" fill="#111"/>
<text x="794.5" y="1140" font-size="20.5" text-anchor="middle" font-weight="normal">8</text>
<line x1="778" y1="1093" x2="778" y2="1197" stroke="#1c1c1c" stroke-width="1.5"/>
<line x1="953.6" y1="975" x2="953.6" y2="1197" stroke="#1c1c1c" stroke-width="1.35"/>
<line x1="778" y1="1189" x2="953.6" y2="1189" stroke="#1c1c1c" stroke-width="1.35"/>
<polygon points="778.0,1189.0 789.5,1186.4 789.5,1191.6" fill="#111"/>
<polygon points="953.6,1189.0 942.1,1191.6 942.1,1186.4" fill="#111"/>
<text x="864.5" y="1182" font-size="20.5" text-anchor="middle" font-weight="normal">41</text>
<line x1="693.6" y1="785" x2="758" y2="785" stroke="#1c1c1c" stroke-width="1.35"/>
<line x1="758" y1="785" x2="808" y2="884" stroke="#1c1c1c" stroke-width="1.35"/>
<polygon points="808.0,884.0 800.3,874.5 804.9,872.1" fill="#111"/>
<text x="697" y="775" font-size="20.5" text-anchor="start" font-weight="normal">Ø6,3</text>
<line x1="884" y1="788" x2="944" y2="788" stroke="#1c1c1c" stroke-width="1.35"/>
<line x1="884" y1="788" x2="839" y2="961" stroke="#1c1c1c" stroke-width="1.35"/>
<polygon points="839.0,961.0 839.5,948.7 844.5,950.0" fill="#111"/>
<text x="901" y="778" font-size="20.5" text-anchor="start" font-weight="normal">Ø10</text>
<text x="1336" y="627" font-size="22.5" text-anchor="start" font-weight="normal" letter-spacing="1.1">( 1 : 1 )</text>
<text x="1259" y="1185.4" font-size="21" text-anchor="start" font-weight="bold">Spec.</text>
<line x1="1259" y1="1188.9" x2="1314.5" y2="1188.9" stroke="#141414" stroke-width="2"/>
<text x="1259" y="1207.8" font-size="21" text-anchor="start" font-weight="normal">12 VDC</text>
<text x="1259" y="1231.5" font-size="21" text-anchor="start" font-weight="normal">&gt; 3 A</text>
<text x="1259" y="1255.5" font-size="21" text-anchor="start" font-weight="normal">Sound power 110dB/1m.</text>
<text x="1259" y="1279" font-size="21" text-anchor="start" font-weight="normal">IP 68</text></g>
</svg>
</body></html>
